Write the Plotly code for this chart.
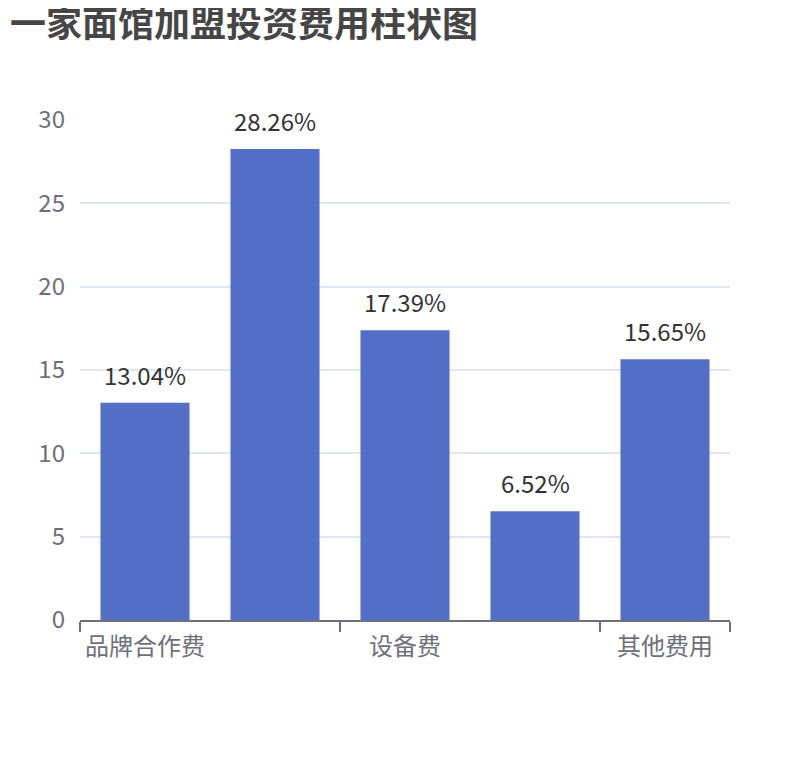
import plotly.graph_objects as go

# 数据
categories = ['品牌合作费', '店面装修费', '设备费', '首批原料费', '其他费用']
values = [13.04, 28.26, 17.39, 6.52, 15.65]
labels = ['13.04%', '28.26%', '17.39%', '6.52%', '15.65%']
shown_ticks = ['品牌合作费', '设备费', '其他费用']

FONT = 'Noto Sans CJK SC, Microsoft YaHei, sans-serif'

fig = go.Figure()
fig.add_trace(go.Bar(
    x=categories,
    y=values,
    marker=dict(color='#5470C6', line=dict(width=0)),
    hoverinfo='x+y',
))

# 柱顶百分比标签
for c, v, t in zip(categories, values, labels):
    fig.add_annotation(
        x=c, y=v, text=t, showarrow=False,
        yanchor='bottom', yshift=9,
        font=dict(family=FONT, size=24, color='#333333'),
    )

# 页面有 8px 的边距，所以尺寸和边距都相应减一点
fig.update_layout(
    width=802, height=752,
    margin=dict(l=72, r=80, t=112, b=140),
    paper_bgcolor='white', plot_bgcolor='white',
    bargap=0.315,
    showlegend=False,
    font=dict(family=FONT),
    title=dict(
        text='<b>一家面馆加盟投资费用柱状图</b>',
        x=2 / 802, xanchor='left', xref='container',
        y=1 - 4 / 752, yanchor='top', yref='container',
        pad=dict(t=0, l=0),
        font=dict(family=FONT, size=36, color='#464646'),
    ),
    xaxis=dict(
        type='category',
        categoryorder='array', categoryarray=categories,
        tickvals=shown_ticks,
        tickson='boundaries',
        ticks='outside', ticklen=10, tickcolor='#6E7079', tickwidth=2,
        showline=True, linecolor='#6E7079', linewidth=2,
        showgrid=False, zeroline=False,
        tickfont=dict(family=FONT, size=24, color='#6E7079'),
        ticklabelstandoff=4,
    ),
    yaxis=dict(
        range=[0, 30], dtick=5,
        showgrid=True, gridcolor='#E0E6F1', gridwidth=2,
        zeroline=False, showline=False, ticks='',
        tickfont=dict(family=FONT, size=24, color='#6E7079'),
        ticklabelstandoff=14,
    ),
)

fig.write_html("out.html")
